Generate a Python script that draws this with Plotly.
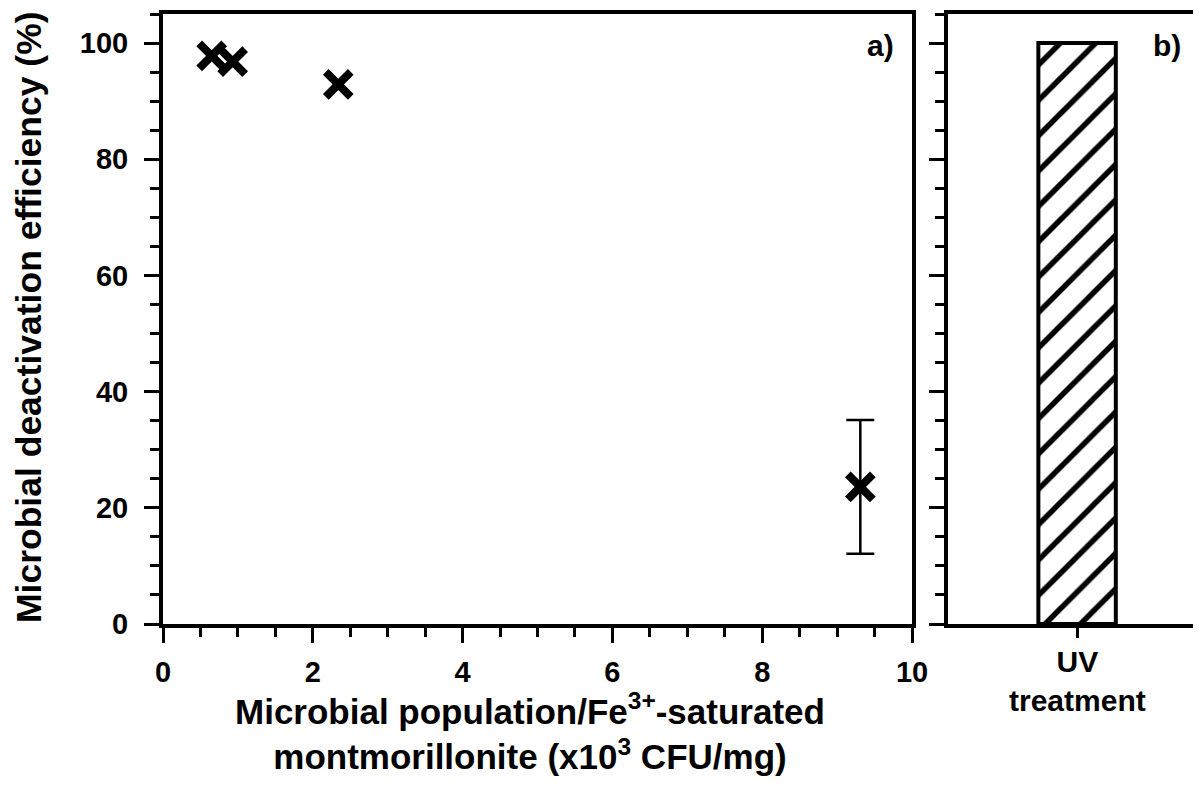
import plotly.graph_objects as go

# Panel a data
population = [0.65, 0.93, 2.34, 9.31]          # x10^3 CFU/mg
efficiency = [97.8, 96.8, 92.9, 23.6]          # %
eff_err = [None, None, None, 11.5]

# Panel b data
treatments = ["UV<br>treatment"]
uv_efficiency = [100]

# page body has an 8px default margin; compensate so the figure fills the 1201x792 window
OFF = 8
W, H = 1201 - OFF, 792 - 2 * OFF
FONT = "Arial, Liberation Sans, sans-serif"

def px_x(p):
    return (p - OFF) / W

def px_y(p):
    return (H - (p - OFF)) / H

fig = go.Figure()

# markers (all points)
fig.add_trace(go.Scatter(
    x=population, y=efficiency, mode="markers",
    marker=dict(symbol="x-thin", size=25, color="black", line=dict(width=8, color="black")),
    xaxis="x", yaxis="y", showlegend=False, cliponaxis=False,
))

# error bars only where an error was reported
idx = [i for i, e in enumerate(eff_err) if e is not None]
fig.add_trace(go.Scatter(
    x=[population[i] for i in idx], y=[efficiency[i] for i in idx], mode="markers",
    marker=dict(size=1, color="rgba(0,0,0,0)"),
    error_y=dict(type="data", array=[eff_err[i] for i in idx], color="black", thickness=2.5, width=14),
    xaxis="x", yaxis="y", showlegend=False, hoverinfo="skip",
))

fig.add_trace(go.Bar(
    x=treatments, y=uv_efficiency, width=0.3,
    marker=dict(color="white", line=dict(color="black", width=4),
                pattern=dict(shape="/", size=25, solidity=0.22, fgcolor="black",
                             bgcolor="white", fgopacity=1)),
    xaxis="x2", yaxis="y2", showlegend=False,
))

tickfont = dict(family=FONT, size=29, color="black", weight="bold")
common = dict(showline=True, linewidth=4, linecolor="black", showgrid=False, zeroline=False,
              ticks="outside", tickcolor="black", tickwidth=2.5, automargin=False)

ydom = [px_y(624), px_y(14)]

fig.update_layout(
    width=W, height=H, autosize=False,
    margin=dict(l=0, r=0, t=0, b=0),
    paper_bgcolor="white", plot_bgcolor="white",
    font=dict(family=FONT, color="black"),
    xaxis=dict(domain=[px_x(163), px_x(912)], range=[0, 10], anchor="y", mirror=True,
               dtick=2, tick0=0, ticklen=15, tickfont=tickfont, ticklabelstandoff=4,
               minor=dict(dtick=0.5, ticklen=9, tickwidth=2.5, tickcolor="black", ticks="outside"),
               **common),
    yaxis=dict(domain=ydom, range=[0, 105], anchor="x", mirror=True,
               dtick=20, tick0=0, ticklen=15, tickfont=tickfont, ticklabelstandoff=10,
               minor=dict(dtick=5, ticklen=9, tickwidth=2.5, tickcolor="black", ticks="outside"),
               **common),
    xaxis2=dict(domain=[px_x(948), 1.0], type="category", range=[-0.5, 0.48], anchor="y2",
                mirror=True, ticklen=10, showticklabels=False, **common),
    yaxis2=dict(domain=ydom, range=[0, 105], anchor="x2", mirror=False,
                dtick=20, tick0=0, ticklen=15, showticklabels=False,
                minor=dict(dtick=5, ticklen=9, tickwidth=2.5, tickcolor="black", ticks="outside"),
                **common),
    annotations=[
        dict(text="Microbial deactivation efficiency (%)", textangle=-90, x=px_x(29), y=px_y(317),
             xref="paper", yref="paper", showarrow=False, xanchor="center", yanchor="middle",
             font=dict(family=FONT, size=35.5, color="black", weight="bold")),
        dict(text="Microbial population/Fe<sup>3+</sup>-saturated<br>montmorillonite (x10<sup>3</sup> CFU/mg)",
             x=px_x(530), y=px_y(731), xref="paper", yref="paper", showarrow=False,
             xanchor="center", yanchor="middle", align="center",
             font=dict(family=FONT, size=35, color="black", weight="bold")),
        dict(text=treatments[0], x=treatments[0], y=px_y(681), xref="x2", yref="paper",
             showarrow=False, xanchor="center", yanchor="middle", align="center",
             font=dict(family=FONT, size=30, color="black", weight="bold")),
        dict(text="a)", x=px_x(880), y=px_y(45), xref="paper", yref="paper", showarrow=False,
             xanchor="center", yanchor="middle", font=dict(family=FONT, size=30, color="black", weight="bold")),
        dict(text="b)", x=px_x(1167), y=px_y(45), xref="paper", yref="paper", showarrow=False,
             xanchor="center", yanchor="middle", font=dict(family=FONT, size=30, color="black", weight="bold")),
    ],
)

fig.write_html("out.html")
